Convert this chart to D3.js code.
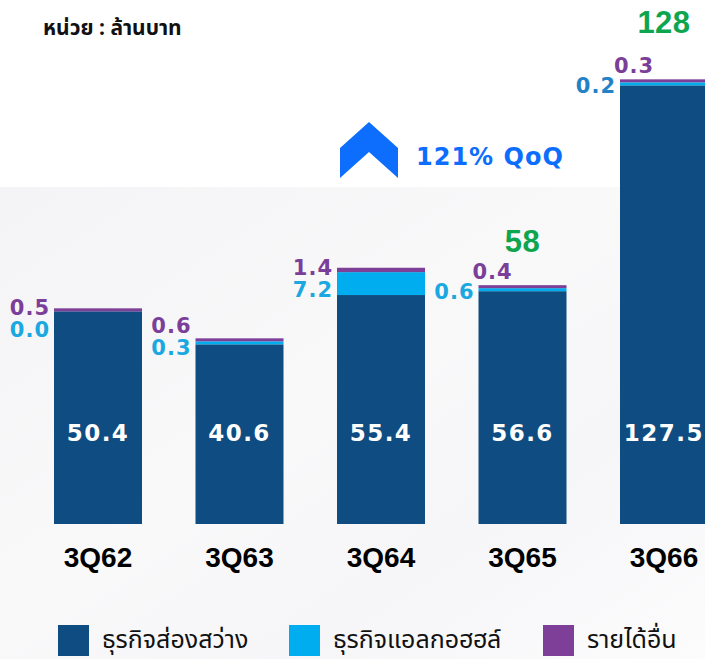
<!DOCTYPE html>
<html>
<head>
<meta charset="utf-8">
<script src="https://cdn.jsdelivr.net/npm/d3@7/dist/d3.min.js"></script>
<style>
  body { margin: 0; background: #fff; }
  svg { display: block; }
  .num { font-family: "DejaVu Sans", sans-serif; font-weight: bold; }
  .thai { font-family: "Noto Sans Thai", "Noto Sans", "DejaVu Sans", sans-serif; }
</style>
</head>
<body>
<div id="chart"></div>
<script>
// ข้อมูลรายได้ (ล้านบาท)
const quarters = ["3Q62", "3Q63", "3Q64", "3Q65", "3Q66"];
const lighting = [50.4, 40.6, 55.4, 56.6, 127.5];
const alcohol  = [0.0, 0.3, 7.2, 0.6, 0.2];
const other    = [0.5, 0.6, 1.4, 0.4, 0.3];
const totalLabels = [null, null, null, "58", "128"];
const seriesNames = ["ธุรกิจส่องสว่าง", "ธุรกิจแอลกอฮฮล์", "รายได้อื่น"];
const growthText = "121% QoQ";
const unitText = "หน่วย : ล้านบาท";

const W = 705, H = 659;
const colors = ["#0f4c81", "#00aeef", "#7d3f98"];
const labelColors = [null, "#1ba8e0", "#7b3f99"];

const svg = d3.select("#chart").append("svg")
    .attr("width", W)
    .attr("height", H);

// พื้นหลังสีเทาอ่อน
const defs = svg.append("defs");
const grad = defs.append("linearGradient")
    .attr("id", "bg").attr("x1", "0").attr("y1", "0").attr("x2", "1").attr("y2", "1");
grad.append("stop").attr("offset", "0").attr("stop-color", "#f4f4f6");
grad.append("stop").attr("offset", "0.45").attr("stop-color", "#f9f9fa");
grad.append("stop").attr("offset", "0.7").attr("stop-color", "#f6f6f8");
grad.append("stop").attr("offset", "1").attr("stop-color", "#fcfcfd");
svg.append("rect").attr("width", W).attr("height", H).attr("fill", "#fff");
svg.append("rect").attr("y", 187).attr("width", W).attr("height", H - 187).attr("fill", "url(#bg)");

// สเกล: step 141.5, ความกว้างแท่ง 88
const x = d3.scaleBand()
    .domain(quarters)
    .range([54, 54 + 141.5 * 4 + 88])
    .paddingInner(53.5 / 141.5)
    .paddingOuter(0);

const y = d3.scalePow().exponent(0.78)
    .domain([0, 128])
    .range([524, 84]);

const minH = 3;
const rows = quarters.map((q, i) => {
    const vals = [lighting[i], alcohol[i], other[i]];
    let cum = 0, top = y(0);
    const segs = vals.map((v, k) => {
        const y0 = top;
        let y1 = y(cum + v);
        if (v > 0 && y0 - y1 < minH) y1 = y0 - minH;
        if (v <= 0) y1 = y0;
        cum += v;
        top = y1;
        return { k, v, y0, y1 };
    });
    return { q, i, segs, total: totalLabels[i] };
});

const g = svg.append("g");

const bars = g.selectAll("g.bar")
    .data(rows)
    .join("g")
    .attr("class", "bar")
    .attr("transform", d => `translate(${x(d.q)},0)`);

bars.selectAll("rect")
    .data(d => d.segs)
    .join("rect")
    .attr("x", 0)
    .attr("width", x.bandwidth())
    .attr("y", s => s.y1)
    .attr("height", s => s.y0 - s.y1)
    .attr("fill", s => colors[s.k]);

// ค่าในแท่ง (สีขาว)
bars.append("text")
    .attr("class", "num")
    .attr("x", x.bandwidth() / 2)
    .attr("y", 441)
    .attr("text-anchor", "middle")
    .attr("fill", "#fff")
    .attr("font-size", 23)
    .attr("letter-spacing", 1.5)
    .text(d => d.segs[0].v.toFixed(1));

// ป้ายค่าของส่วนเล็ก
bars.each(function(d) {
    const sel = d3.select(this);
    const barTop = d.segs[2].y1;
    const late = d.i >= 3;
    // รายได้อื่น
    sel.append("text")
        .attr("class", "num")
        .attr("x", late ? -6 : -4)
        .attr("y", late ? barTop - 6 : barTop + (d.i === 1 ? -5 : 7))
        .attr("text-anchor", late ? "start" : "end")
        .attr("fill", labelColors[2])
        .attr("font-size", 21)
        .attr("letter-spacing", 1)
        .text(d.segs[2].v.toFixed(1));
    // แอลกอฮอล์
    sel.append("text")
        .attr("class", "num")
        .attr("x", -4)
        .attr("y", late ? barTop + 14 : barTop + (d.i === 1 ? 17 : 29))
        .attr("text-anchor", "end")
        .attr("fill", d.i === 4 ? "#2382c6" : labelColors[1])
        .attr("font-size", 21)
        .attr("letter-spacing", 1)
        .text(d.segs[1].v.toFixed(1));
    // ยอดรวม
    if (d.total) {
        sel.append("text")
            .attr("x", x.bandwidth() / 2)
            .attr("y", d.i === 4 ? barTop - 46 : barTop - 33)
            .attr("text-anchor", "middle")
            .attr("fill", "#0ea54f")
            .style("font-family", "'Liberation Sans', Arial, sans-serif")
            .style("font-weight", "bold")
            .attr("font-size", 31)
            .attr("letter-spacing", 0.5)
            .text(d.total);
    }
});

// แกน x
const xAxis = svg.append("g")
    .attr("transform", "translate(0,524)")
    .call(d3.axisBottom(x).tickSize(0).tickPadding(0));
xAxis.select(".domain").remove();
xAxis.selectAll("text")
    .attr("y", 43)
    .attr("dy", 0)
    .attr("fill", "#000")
    .style("font-family", "'Liberation Sans', Arial, sans-serif")
    .style("font-weight", "bold")
    .style("font-size", "28px");

// หน่วย
svg.append("text")
    .attr("class", "thai")
    .attr("x", 43)
    .attr("y", 35)
    .attr("font-size", 21)
    .attr("font-weight", "bold")
    .attr("fill", "#111")
    .text(unitText);

// ลูกศรการเติบโต
svg.append("path")
    .attr("d", "M340,178 L340,148 L369,122 L398,148 L398,178 L369,152 Z")
    .attr("fill", "#0d6efd");
svg.append("text")
    .attr("class", "num")
    .attr("x", 416)
    .attr("y", 165)
    .attr("font-size", 24)
    .attr("letter-spacing", 1)
    .attr("fill", "#0d6efd")
    .text(growthText);

// คำอธิบายสัญลักษณ์
const legendX = [58, 289, 543];
const legend = svg.append("g").selectAll("g")
    .data(seriesNames)
    .join("g")
    .attr("transform", (d, i) => `translate(${legendX[i]},625)`);
legend.append("rect")
    .attr("width", 31).attr("height", 31)
    .attr("fill", (d, i) => colors[i]);
legend.append("text")
    .attr("class", "thai")
    .attr("x", 44)
    .attr("y", 23)
    .attr("font-size", 25)
    .attr("fill", "#111")
    .text(d => d);
</script>
</body>
</html>
